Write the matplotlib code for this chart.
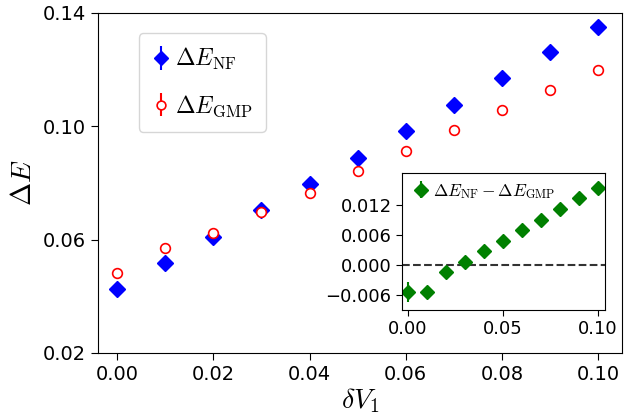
import matplotlib
matplotlib.use('Agg')
import matplotlib.pyplot as plt
import numpy as np

plt.rcParams['mathtext.fontset'] = 'cm'

dV = [0.00, 0.01, 0.02, 0.03, 0.04, 0.05, 0.06, 0.07, 0.08, 0.09, 0.10]
dE_nf = [0.0427, 0.0519, 0.0611, 0.0706, 0.0798, 0.0890, 0.0982, 0.1074, 0.1170, 0.1262, 0.1350]
dE_gmp = [0.0483, 0.0572, 0.0625, 0.0699, 0.0766, 0.0841, 0.0912, 0.0986, 0.1057, 0.1127, 0.1198]
err_nf = [0.0007, 0.0004, 0.0006, 0.0005, 0.0004, 0.0003, 0.0003, 0.0002, 0.0002, 0.0002, 0.0002]
err_gmp = [0.0004, 0.0003, 0.0004, 0.0003, 0.0003, 0.0002, 0.0002, 0.0002, 0.0002, 0.0002, 0.0002]
diff = [-0.0054, -0.0054, -0.0014, 0.0006, 0.0028, 0.0048, 0.0070, 0.0090, 0.0112, 0.0134, 0.0154]
err_diff = [0.0020, 0.0008, 0.0011, 0.0010, 0.0010, 0.0007, 0.0006, 0.0006, 0.0005, 0.0005, 0.0004]

fig = plt.figure(figsize=(6.35, 4.2), dpi=100)
ax = fig.add_axes([98/635, 1-353/420, (622-98)/635, (353-13)/420])

ax.errorbar(dV, dE_nf, yerr=err_nf, fmt='D', color='blue', ms=8,
            label=r'$\Delta E_{\rm NF}$')
ax.errorbar(dV, dE_gmp, yerr=err_gmp, fmt='o', color='red', mfc='white',
            ms=7, mew=1.2, label=r'$\Delta E_{\rm GMP}$')
ax.set_xlim(-0.004, 0.105)
ax.set_ylim(0.02, 0.14)
ax.set_xticks([0.00, 0.02, 0.04, 0.06, 0.08, 0.10])
ax.set_yticks([0.02, 0.06, 0.10, 0.14])
ax.set_xticklabels(['0.00', '0.02', '0.04', '0.06', '0.08', '0.10'])
ax.set_yticklabels(['0.02', '0.06', '0.10', '0.14'])
ax.tick_params(labelsize=14, direction='out', length=5)
ax.set_xlabel(r'$\delta V_1$', fontsize=20, labelpad=2)
ax.set_ylabel(r'$\Delta E$', fontsize=20, labelpad=4)
ax.legend(loc='upper left', bbox_to_anchor=(0.055, 0.975), fontsize=17,
          handletextpad=0.2, handlelength=0.8, borderpad=0.55, labelspacing=0.9,
          markerscale=0.9)

ins = fig.add_axes([402/635, 1-310/420, (605-402)/635, (310-173)/420])
ins.errorbar(dV, diff, yerr=err_diff, fmt='D', color='green', ms=7,
             label=r'$\Delta E_{\rm NF}-\Delta E_{\rm GMP}$')
ins.axhline(0, color='#333333', ls='--', lw=1.5)
ins.set_xlim(-0.0032, 0.1037)
ins.set_ylim(-0.009, 0.0184)
ins.set_xticks([0.00, 0.05, 0.10])
ins.set_xticklabels(['0.00', '0.05', '0.10'])
ins.set_yticks([-0.006, 0.000, 0.006, 0.012])
ins.set_yticklabels(['\u22120.006', '0.000', '0.006', '0.012'])
ins.tick_params(labelsize=13, length=4)
ins.legend(loc='upper left', fontsize=12.5, frameon=False, handletextpad=0.1,
           borderaxespad=0.1, handlelength=1.2)

fig.savefig('out.png', dpi=100)
